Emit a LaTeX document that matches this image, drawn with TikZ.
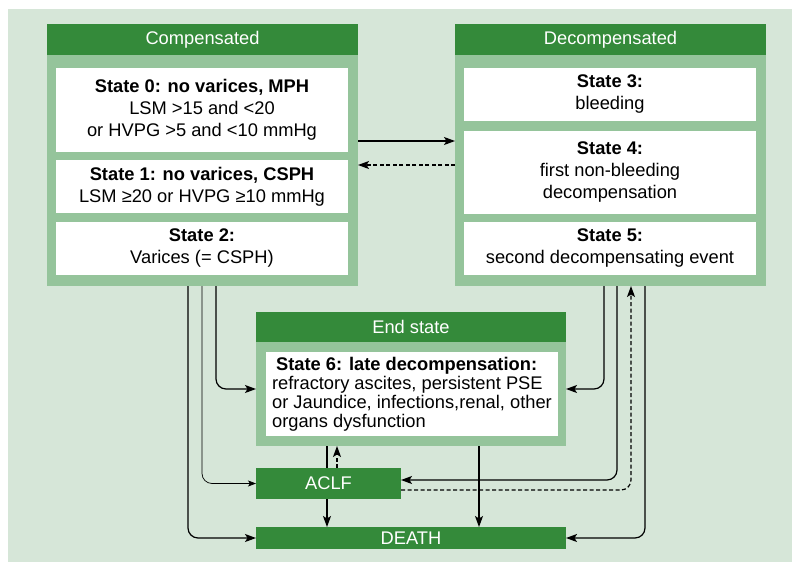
\documentclass[tikz,border=0pt]{standalone}
\usepackage{fontspec}
\setmainfont{Liberation Sans}
\usetikzlibrary{arrows.meta}
\definecolor{bg}{HTML}{D6E6D8}
\definecolor{dk}{HTML}{348A3A}
\definecolor{md}{HTML}{95C49B}
\begin{document}
\begin{tikzpicture}[x=1pt,y=-1pt,
 every node/.style={inner sep=0pt, outer sep=0pt, anchor=north west, font=\fontsize{18.3}{22}\selectfont},
 hdr/.style={fill=dk, text=white},
 body/.style={fill=md},
 wbox/.style={fill=white, align=center},
 arr/.style={-{Stealth[length=11pt,width=8pt,inset=2.5pt]}, line width=1.2pt, rounded corners=10pt},
 dsh/.style={arr, dash pattern=on 4pt off 2.5pt},
 ln/.style={line width=1.2pt}]
\useasboundingbox (0,0) rectangle (792,562);
\fill[bg] (8,9) rectangle (792,562);
% Compensated
\node[body, minimum width=311pt, minimum height=262pt] (comp) at (47,24) {};
\node[hdr, minimum width=311pt, minimum height=31pt] (compH) at (47,24) {Compensated};
\node[wbox, minimum width=292pt, minimum height=84pt] (s0) at (56,68) {\textbf{State 0: no varices, MPH}\\LSM >15 and <20\\or HVPG >5 and <10 mmHg};
\node[wbox, minimum width=292pt, minimum height=53pt] (s1) at (56,160) {\textbf{State 1: no varices, CSPH}\\LSM ≥20 or HVPG ≥10 mmHg};
\node[wbox, minimum width=292pt, minimum height=53pt] (s2) at (56,222) {\textbf{State 2:}\\Varices (= CSPH)};
% Decompensated
\node[body, minimum width=311pt, minimum height=262pt] (decomp) at (455,24) {};
\node[hdr, minimum width=311pt, minimum height=31pt] (decompH) at (455,24) {Decompensated};
\node[wbox, minimum width=292pt, minimum height=53pt] (s3) at (464,68) {\textbf{State 3:}\\bleeding};
\node[wbox, minimum width=292pt, minimum height=83pt] (s4) at (464,131) {\textbf{State 4:}\\first non-bleeding\\decompensation};
\node[wbox, minimum width=292pt, minimum height=53pt] (s5) at (464,222) {\textbf{State 5:}\\second decompensating event};
% End state
\node[body, minimum width=310pt, minimum height=134pt] (endb) at (256,312) {};
\node[hdr, minimum width=310pt, minimum height=30pt] (endH) at (256,312) {End state};
\node[fill=white, align=left, minimum width=292pt, minimum height=84pt, font=\fontsize{18.3}{19}\selectfont] (s6) at (266,352) {\hspace*{4pt}\textbf{State 6: late decompensation:}\\refractory ascites, persistent PSE\\or Jaundice, infections,renal, other\\organs dysfunction};
% ACLF and death
\node[hdr, minimum width=145pt, minimum height=31pt] (aclf) at (256,468) {ACLF};
\node[hdr, minimum width=310pt, minimum height=22pt] (death) at (256,527) {DEATH};
% connectors
\draw[arr] (comp.east |- 0,141) -- (decomp.west |- 0,141);
\draw[dsh] (decomp.west |- 0,165) -- (comp.east |- 0,165);
\draw[arr] (comp.south -| 216,0) |- (endb.west |- 0,389);
\draw[arr, line width=0.7pt, -{Stealth[length=8pt,width=6pt,inset=2pt]}] (comp.south -| 202,0) |- (aclf.west);
\draw[arr] (comp.south -| 188,0) |- (death.west);
\draw[arr] (decomp.south -| 604,0) |- (endb.east |- 0,389);
\draw[arr] (decomp.south -| 617,0) |- (aclf.east |- 0,480);
\draw[dsh] (aclf.east |- 0,490) -| (decomp.south -| 631,0);
\draw[arr] (decomp.south -| 645,0) |- (death.east);
\draw[ln] (endb.south -| 327,0) -- (aclf.north -| 327,0);
\draw[dsh] (aclf.north -| 337,0) -- (endb.south -| 337,0);
\draw[arr] (aclf.south -| 327,0) -- (death.north -| 327,0);
\draw[arr] (endb.south -| 479,0) -- (death.north -| 479,0);
\end{tikzpicture}
\end{document}
